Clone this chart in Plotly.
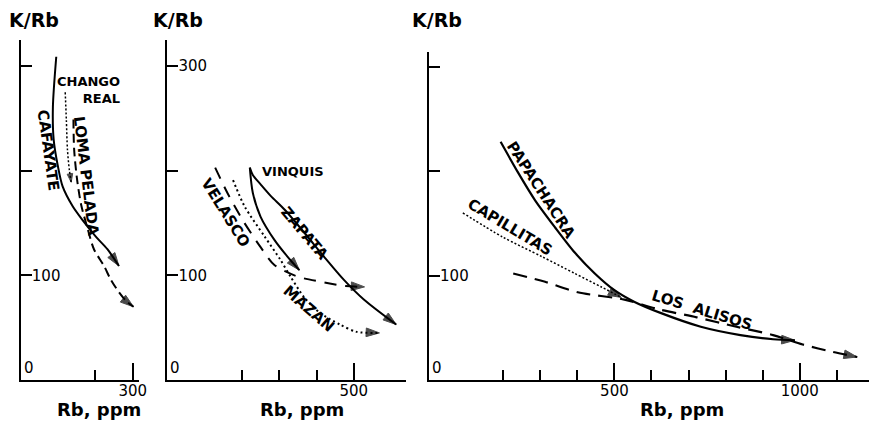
import plotly.graph_objects as go

# ---------------- data ----------------
# Panel 1
cafayate_rb = [95, 86, 88, 99, 112, 139, 165, 201, 232, 263]
cafayate_k = [309, 261, 230, 205, 185, 166, 153, 137, 125, 109]
chango_rb = [119, 122, 125, 130, 135]
chango_k = [275, 249, 220, 201, 189]
loma_rb = [141, 143, 151, 162, 178, 196, 223, 241, 263, 284, 302]
loma_k = [249, 220, 191, 167, 146, 125, 109, 96, 84, 75, 70]

# Panel 2
velasco_rb = [128, 162, 205, 250, 287, 348, 410, 473, 529]
velasco_k = [203, 178, 151, 127, 110, 99, 94, 90, 89]
mazan_rb = [176, 207, 261, 303, 330, 367, 410, 463, 508, 569]
mazan_k = [191, 166, 137, 115, 99, 79, 64, 53, 46, 45]
vinquis_rb = [221, 229, 250, 287, 322, 354]
vinquis_k = [203, 179, 156, 134, 118, 105]
zapata_rb = [221, 229, 250, 277, 314, 367, 420, 473, 527, 614]
zapata_k = [203, 196, 187, 176, 163, 141, 118, 96, 77, 53]

# Panel 3
papachacra_rb = [193, 241, 286, 340, 393, 447, 500, 553, 626, 733, 840, 928, 987]
papachacra_k = [228, 198, 172, 146, 122, 102, 86, 75, 64, 51, 43, 39, 38]
capillitas_rb = [91, 198, 305, 393, 465, 519]
capillitas_k = [160, 137, 118, 102, 89, 79]
alisos_rb = [227, 313, 401, 527, 615, 722, 829, 928, 1008, 1088, 1155]
alisos_k = [102, 94, 84, 77, 68, 60, 51, 43, 34, 27, 22]

# tick values / labels
y_ticks = [100, 200, 300]
y_labels_1 = ["100", "", ""]
y_labels_2 = ["100", "", "300"]
y_labels_3 = ["100", "", ""]
x1_major, x1_minor = [300], [100, 200]
x2_major, x2_minor = [500], [100, 200, 300, 400]
x3_major, x3_minor = [500, 1000], [100, 200, 300, 400, 600, 700, 800, 900, 1100]

W, H = 884, 424
FONT = "DejaVu Sans"


def px_x(p):
    return p / W


def px_y(p):
    return 1 - p / H


fig = go.Figure()


def curve(xs, ys, ax, dash, width, arrow=True, asize=14):
    sizes = [0] * (len(xs) - 1) + [asize if arrow else 0]
    fig.add_trace(go.Scatter(
        x=xs, y=ys, xaxis=ax[0], yaxis=ax[1],
        mode="lines+markers",
        line=dict(color="black", width=width, dash=dash, shape="spline", smoothing=0.8),
        marker=dict(symbol="arrow", size=sizes, angleref="previous", color="black",
                    line=dict(width=1, color="black")),
        showlegend=False, hoverinfo="skip",
    ))


curve(cafayate_rb, cafayate_k, ("x", "y"), "solid", 2)
curve(chango_rb, chango_k, ("x", "y"), "2px,2px", 1.5, asize=9)
curve(loma_rb, loma_k, ("x", "y"), "9px,5px", 2)

curve(velasco_rb, velasco_k, ("x2", "y2"), "12px,9px", 2)
curve(mazan_rb, mazan_k, ("x2", "y2"), "2px,3px", 2)
curve(vinquis_rb, vinquis_k, ("x2", "y2"), "solid", 2)
curve(zapata_rb, zapata_k, ("x2", "y2"), "solid", 2)

curve(papachacra_rb, papachacra_k, ("x3", "y3"), "solid", 2.2)
curve(capillitas_rb, capillitas_k, ("x3", "y3"), "2px,2px", 1.5)
curve(alisos_rb, alisos_k, ("x3", "y3"), "14px,8px", 2.2)

tickfont = dict(family=FONT, size=15, color="black")


def xaxis(dom, rng, major, minor, anchor):
    return dict(domain=dom, range=rng, anchor=anchor, showline=True, linecolor="black",
                linewidth=2, showgrid=False, zeroline=False, ticks="inside",
                tickvals=major, ticktext=[str(v) for v in major], ticklen=17, tickwidth=2,
                tickcolor="black", tickfont=tickfont, fixedrange=True,
                ticklabelstandoff=-4,
                minor=dict(tickmode="array", tickvals=minor, ticks="inside", ticklen=10,
                           tickwidth=2, tickcolor="black"))


def yaxis(dom, rng, labels, anchor):
    return dict(domain=dom, range=rng, anchor=anchor, showline=True, linecolor="black",
                linewidth=2, showgrid=False, zeroline=False, ticks="inside",
                tickvals=y_ticks, ticktext=labels, ticklen=11, tickwidth=2,
                tickcolor="black", ticklabelposition="inside", tickfont=tickfont,
                fixedrange=True)


ybot = px_y(380)
fig.update_layout(
    width=W, height=H, margin=dict(l=0, r=0, t=0, b=0),
    paper_bgcolor="white", plot_bgcolor="white",
    xaxis=xaxis([px_x(21), px_x(140)], [0, 316], x1_major, x1_minor, "y"),
    xaxis2=xaxis([px_x(169), px_x(410)], [0, 641], x2_major, x2_minor, "y2"),
    xaxis3=xaxis([px_x(433), px_x(877)], [0, 1187], x3_major, x3_minor, "y3"),
    yaxis=yaxis([ybot, px_y(40)], [0, 325], y_labels_1, "x"),
    yaxis2=yaxis([ybot, px_y(40)], [0, 325], y_labels_2, "x2"),
    yaxis3=yaxis([ybot, px_y(52)], [0, 314], y_labels_3, "x3"),
)

annots = []
bold = dict(family=FONT, size=19, color="black", weight="bold")
for cx in (34, 180, 441):
    annots.append(dict(text="K/Rb", x=px_x(cx), y=px_y(20), xref="paper", yref="paper",
                       showarrow=False, font=bold, xanchor="center", yanchor="middle"))
for cx in (100, 305, 688):
    annots.append(dict(text="Rb, ppm", x=px_x(cx), y=px_y(409), xref="paper", yref="paper",
                       showarrow=False, font=dict(family=FONT, size=18, color="black", weight="bold"),
                       xanchor="center", yanchor="middle"))
for ax in ("", "2", "3"):
    annots.append(dict(text="0", x=0, y=0, xref="x" + ax, yref="y" + ax, showarrow=False,
                       xanchor="left", yanchor="bottom", xshift=1, yshift=1, font=tickfont))

lab = dict(family=FONT, size=13, color="black", weight="bold")
lab_r = dict(family=FONT, size=15, color="black", weight="bold")


def label(text, x, y, ax, angle=0, font=None, **kw):
    d = dict(text=text, x=x, y=y, xref="x" + ax, yref="y" + ax, showarrow=False,
             textangle=angle, font=font or lab_r)
    d.update(kw)
    annots.append(d)


label("CHANGO<br>REAL", 272, 277, "", 0, font=lab, xanchor="right", align="right")
label("CAFAYATE", 74, 219, "", 82)
label("LOMA PELADA", 175, 195, "", 83)
label("VINQUIS", 338, 199, "2", 0, font=lab)
label("VELASCO", 157, 160, "2", 58)
label("ZAPATA", 370, 140, "2", 50)
label("MAZAN", 380, 68, "2", 41)
label("PAPACHACRA", 302, 182, "3", 57)
label("CAPILLITAS", 217, 146, "3", 31)
label("LOS&nbsp;&nbsp;ALISOS", 735, 67, "3", 17)

fig.update_layout(annotations=annots)
fig.write_html("out.html", config={"displayModeBar": False},
               post_script="document.body.style.margin='0';document.body.style.overflow='hidden';")
